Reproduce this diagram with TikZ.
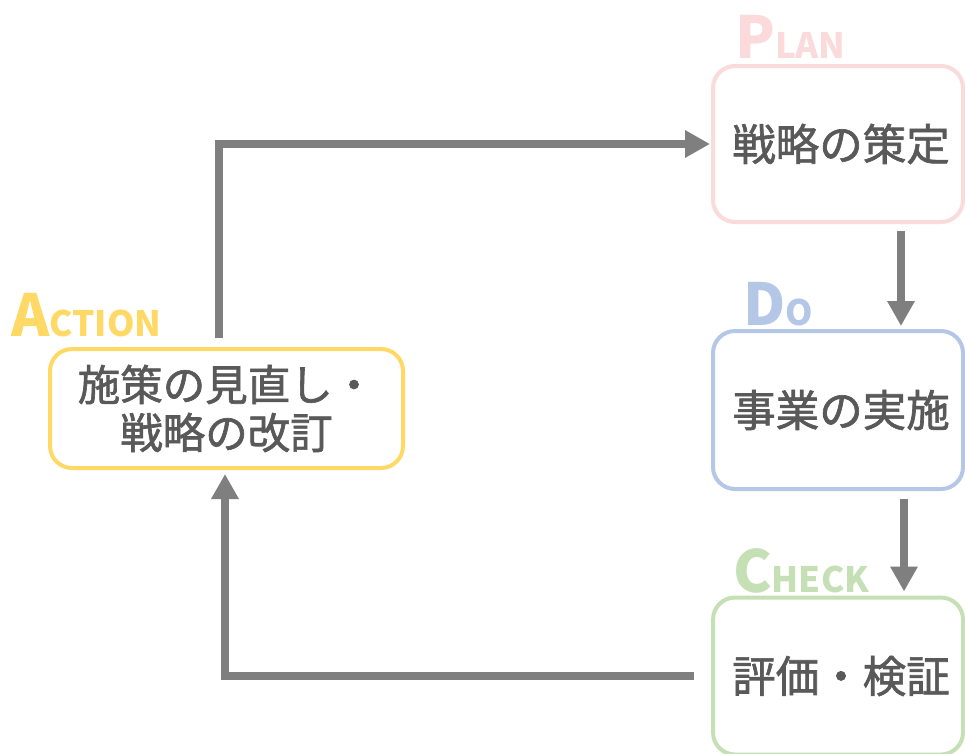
\documentclass[tikz,border=0pt]{standalone}
\usepackage{fontspec}
\newfontfamily\jp[FakeBold=1.5]{Noto Sans CJK JP}
\newfontfamily\jpl{Noto Sans CJK JP}
\usetikzlibrary{arrows.meta}
\definecolor{txt}{HTML}{595959}
\definecolor{arrc}{HTML}{7F7F7F}
\definecolor{planc}{HTML}{FADADA}
\definecolor{doc}{HTML}{B4C7E7}
\definecolor{chkc}{HTML}{C5E0B4}
\definecolor{actc}{HTML}{FFD966}
\tikzset{
  box/.style={draw=#1, line width=4pt, rounded corners=22pt, text=txt,
    font=\jp\fontsize{43.5}{48}\selectfont, align=center, inner sep=0pt},
  arr/.style={draw=arrc, line width=8pt, -{Triangle[length=25pt,width=26pt]}},
  lbl/.style={text=#1, font=\jpl\bfseries, anchor=base west, inner sep=0pt},
}
\newcommand\bigsc[2]{{\fontsize{58}{58}\selectfont #1}{\fontsize{35}{35}\selectfont #2}}
\begin{document}
\begin{tikzpicture}[x=1pt,y=-1pt]
\useasboundingbox (0,0) rectangle (965,753);
\fill[white] (0,0) rectangle (965,753);
\node[box=planc, minimum width=250pt, minimum height=156pt] (plan) at (838,144) {\hspace*{6pt}戦略の策定};
\node[box=doc, minimum width=250pt, minimum height=158pt] (do) at (838,410) {\hspace*{6pt}事業の実施};
\node[box=chkc, minimum width=250pt, minimum height=157pt] (chk) at (838,676) {\hspace*{6pt}評価・検証};
\node[box=actc, font=\jp\fontsize{42.5}{48}\selectfont, minimum width=353pt, minimum height=119pt] (act) at (226.5,408.5) {施策の見直し・\\戦略の改訂};
\node[lbl=planc] (plbl) at (735,58) {\bigsc{P}{LAN}};
\node[lbl=doc] (dlbl) at (743,325) {\bigsc{D}{O}};
\node[lbl=chkc] (clbl) at (733,592) {\bigsc{C}{HECK}};
\node[lbl=actc] (albl) at (11,336) {\bigsc{A}{CTION}};
\draw[arr, shorten <=9pt, shorten >=1pt] ([xshift=-7.5pt]act.north) |- (plan.west);
\draw[arr, shorten <=7pt, shorten >=3pt] ([xshift=63pt]plan.south) -- ([xshift=63pt]do.north);
\draw[arr, shorten <=8pt, shorten >=4pt] ([xshift=66pt]do.south) -- ([xshift=66pt]chk.north);
\draw[arr, shorten <=17pt, shorten >=4pt] (chk.west) -| ([xshift=-1.5pt]act.south);
\end{tikzpicture}
\end{document}
